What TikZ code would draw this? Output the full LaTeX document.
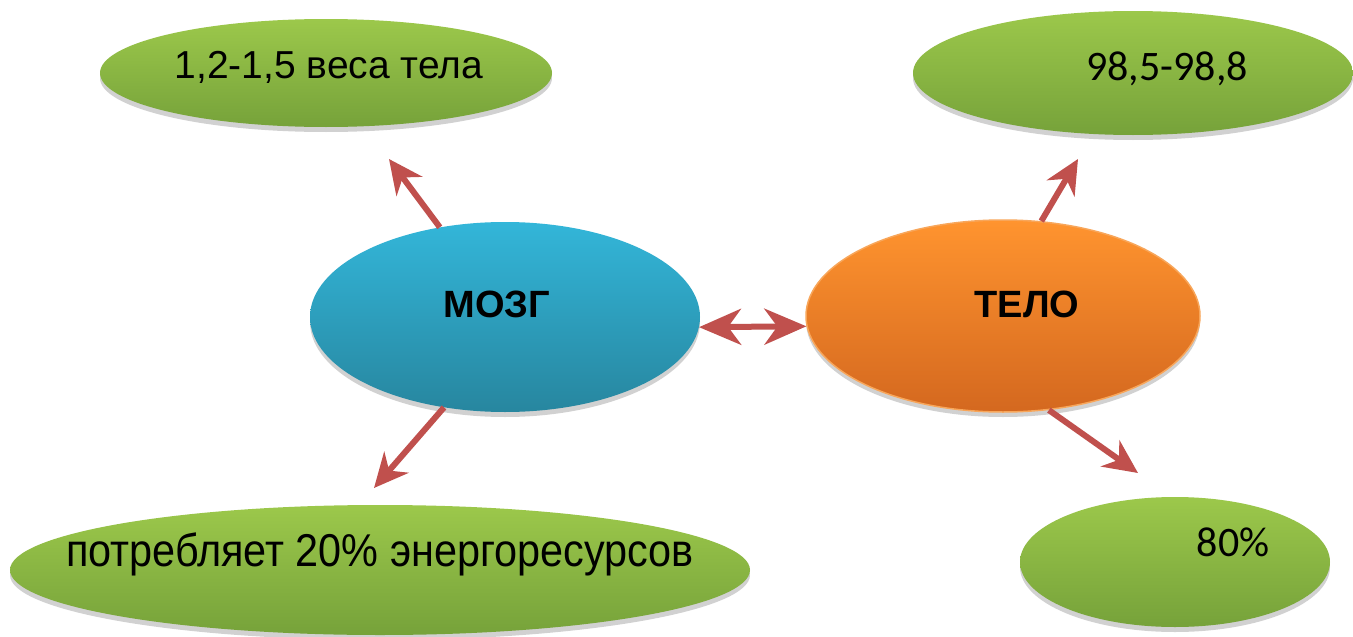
\documentclass[tikz,border=0pt]{standalone}
\usepackage{fontspec}
\setmainfont{Liberation Sans}
\newfontfamily\calfont{Carlito}
\usetikzlibrary{shapes.geometric,arrows.meta,shadows}
\definecolor{gtop}{HTML}{9CC84B}
\definecolor{gbot}{HTML}{76A23A}
\definecolor{btop}{HTML}{33B6D9}
\definecolor{bbot}{HTML}{27869F}
\definecolor{otop}{HTML}{FF942F}
\definecolor{obot}{HTML}{D4681F}
\definecolor{oline}{HTML}{F8A65A}
\definecolor{arr}{HTML}{C0504D}
\tikzset{
  blob/.style={ellipse, inner sep=0pt, draw=none,
    drop shadow={shadow xshift=0pt, shadow yshift=-5pt, opacity=0.18, fill=black}},
  greenblob/.style={blob, top color=gtop, bottom color=gbot},
  blueblob/.style={blob, top color=btop, bottom color=bbot},
  orangeblob/.style={blob, top color=otop, bottom color=obot, draw=oline, line width=1.5pt},
  caltext/.style={font=\calfont\fontsize{42}{42}\selectfont, inner sep=0pt, anchor=base},
  arialtext/.style={font=\fontsize{39}{39}\selectfont, inner sep=0pt, anchor=base},
  boldtext/.style={font=\bfseries\fontsize{38}{38}\selectfont, inner sep=0pt, anchor=base},
  link/.style={draw=arr, line width=6pt, -{Stealth[length=34pt, width=32pt, inset=11pt]}},
  dlink/.style={draw=arr, line width=6pt, {Stealth[length=42pt, width=36pt, inset=13pt]}-{Stealth[length=42pt, width=36pt, inset=13pt]}}
}
\begin{document}
\begin{tikzpicture}[x=1pt, y=-1pt]
\useasboundingbox[fill=white] (0,0) rectangle (1353,637);
% ellipses
\node[greenblob, minimum width=452pt, minimum height=108pt] (tl) at (326,73) {};
\node[greenblob, minimum width=440pt, minimum height=124pt] (tr) at (1133,73) {};
\node[greenblob, minimum width=740pt, minimum height=130pt] (bl) at (380,570) {};
\node[greenblob, minimum width=310pt, minimum height=130pt] (br) at (1175,562) {};
\node[blueblob, minimum width=390pt, minimum height=190pt] (mozg) at (505,317) {};
\node[orangeblob, minimum width=394pt, minimum height=192pt] (telo) at (1003,316) {};
% texts
\node[arialtext] (tltext) at (329,78) {1,2-1,5 веса тела};
\node[caltext] (trtext) at (1167,80) {98,5-98,8};
\node[caltext] (brtext) at (1233,556) {80\%};
\node[inner sep=0pt, anchor=base] (bltext) at (380,566) {\scalebox{0.9}[1]{\fontsize{46}{46}\selectfont потребляет 20\% энергоресурсов}};
\node[boldtext] (mozgtext) at (497,317) {МОЗГ};
\node[boldtext] (telotext) at (1027,317) {ТЕЛО};
% arrow tips
\coordinate (p1) at (389,159);
\coordinate (p2) at (374,488);
\coordinate (p3) at (1078,159);
\coordinate (p4) at (1138,473);
\draw[link] (mozg.126) -- (p1);
\draw[link] (mozg.236) -- (p2);
\draw[link] (telo.68) -- (p3);
\draw[link] (telo.-64) -- (p4);
\draw[dlink] (mozg.-3) -- (telo.183);
\end{tikzpicture}
\end{document}
